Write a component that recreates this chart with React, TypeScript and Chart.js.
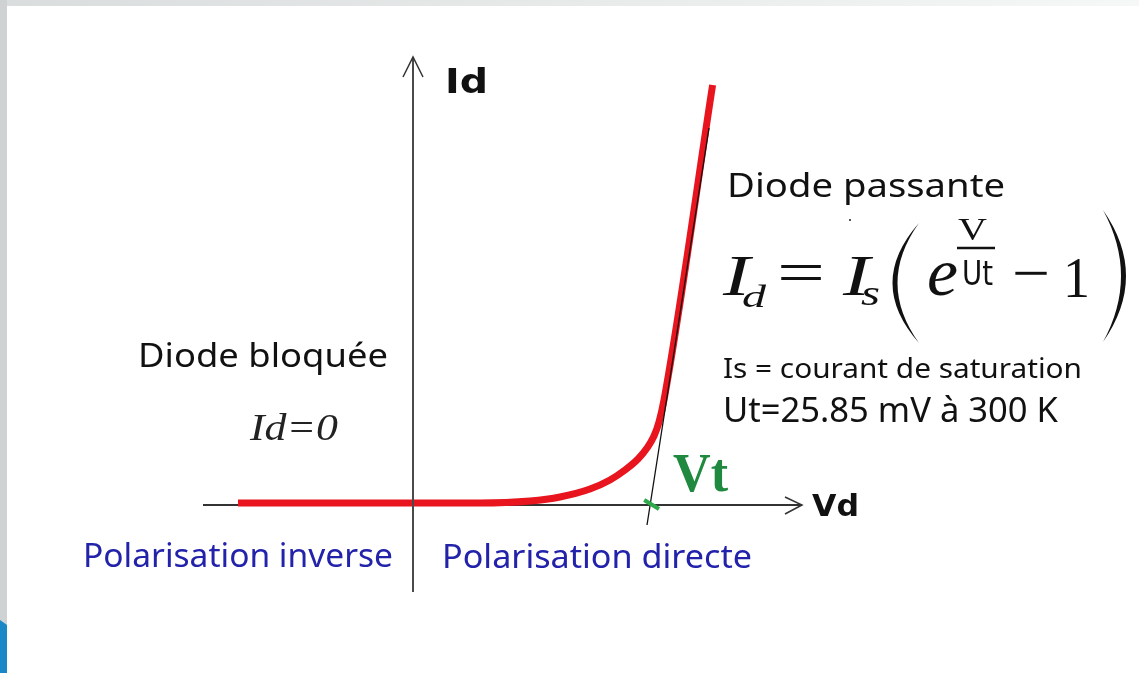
import React, { useEffect, useRef } from "react";
import { Chart, registerables } from "chart.js";

Chart.register(...registerables);

// Diode characteristic (Vd in volts, Id in mA)
const curveV = [-0.4375, 0.1675, 0.2925, 0.3675, 0.4425, 0.4925, 0.53, 0.5625, 0.585, 0.6025, 0.615, 0.6275, 0.749];
const curveI = [0.1, 0.1, 0.2, 0.4, 0.8, 1.25, 1.75, 2.3, 2.85, 3.45, 4.15, 5.25, 21];

// Tangent of the straight part (defines Vt)
const tangentV = [0.585, 0.74];
const tangentI = [-1.0, 18.85];

// Green tick marking Vt on the Vd axis
const markV = [0.578, 0.615];
const markI = [0.25, -0.2];

// Axis extents
const hAxisV = [-0.525, 0.9725];
const hAxisI = [0, 0];
const vAxisV = [0, 0];
const vAxisI = [-4.35, 22.4];

// Scale limits
const xLimits = [-1.0325, 1.815];
const yLimits = [-8.4, 25.25];

const toPts = (xs: number[], ys: number[]) => xs.map((x, i) => ({ x, y: ys[i] }));

function fitText(
  ctx: CanvasRenderingContext2D,
  text: string,
  left: number,
  baseline: number,
  width: number,
  font: string,
  color: string
) {
  ctx.save();
  ctx.font = font;
  ctx.fillStyle = color;
  ctx.textAlign = "left";
  ctx.textBaseline = "alphabetic";
  const w = ctx.measureText(text).width || 1;
  ctx.translate(left, baseline);
  ctx.scale(width / w, 1);
  ctx.fillText(text, 0, 0);
  ctx.restore();
}

const decorPlugin = {
  id: "decor",
  beforeDraw(chart: any) {
    const ctx: CanvasRenderingContext2D = chart.ctx;
    const W = chart.width;
    const H = chart.height;
    ctx.save();
    ctx.fillStyle = "#ffffff";
    ctx.fillRect(0, 0, W, H);
    const g = ctx.createLinearGradient(0, 0, W, 0);
    g.addColorStop(0, "#dadddd");
    g.addColorStop(1, "#f6f7f7");
    ctx.fillStyle = g;
    ctx.fillRect(0, 0, W, 6);
    ctx.fillStyle = "#cfd2d3";
    ctx.fillRect(0, 0, 7, H);
    ctx.fillStyle = "#1a88c6";
    ctx.beginPath();
    ctx.moveTo(0, 620);
    ctx.lineTo(7, 625);
    ctx.lineTo(7, H);
    ctx.lineTo(0, H);
    ctx.closePath();
    ctx.fill();
    ctx.restore();
  },
  afterDatasetsDraw(chart: any) {
    const ctx: CanvasRenderingContext2D = chart.ctx;
    const xs = chart.scales.x;
    const ys = chart.scales.y;
    ctx.save();
    ctx.lineWidth = 1.5;
    ctx.strokeStyle = "#333";
    // Vd arrow head
    const hx = xs.getPixelForValue(hAxisV[1]);
    const hy = ys.getPixelForValue(0);
    ctx.beginPath();
    ctx.moveTo(hx - 17, hy - 8);
    ctx.lineTo(hx, hy);
    ctx.lineTo(hx - 17, hy + 9);
    ctx.stroke();
    // Id arrow head
    const vx = xs.getPixelForValue(0);
    const vy = ys.getPixelForValue(vAxisI[1]);
    ctx.beginPath();
    ctx.moveTo(vx - 10, vy + 20);
    ctx.lineTo(vx, vy);
    ctx.lineTo(vx + 10, vy + 20);
    ctx.stroke();
    ctx.restore();

    // Axis names
    fitText(ctx, "Id", 445, 93, 43, "bold 34px 'DejaVu Sans'", "#111");
    fitText(ctx, "Vd", 812, 516, 47, "bold 31px 'DejaVu Sans'", "#111");
    fitText(ctx, "Vt", 673, 491, 55, "bold 54px 'Liberation Serif'", "#1f8a3f");

    // Region labels
    const hand = "'Noto Sans'";
    fitText(ctx, "Diode passante", 727, 197, 278, `33px ${hand}`, "#111");
    fitText(ctx, "Diode bloquée", 138, 367, 250, `33px ${hand}`, "#111");
    fitText(ctx, "Id=0", 250, 440, 88, "italic 38px 'Liberation Serif'", "#222");
    fitText(ctx, "Polarisation inverse", 83, 567, 310, `32px ${hand}`, "#2222aa");
    fitText(ctx, "Polarisation directe", 442, 568, 310, `32px ${hand}`, "#2222aa");
    fitText(ctx, "Is = courant de saturation", 723, 378, 359, `28px ${hand}`, "#111");
    fitText(ctx, "Ut=25.85 mV à 300 K", 723, 422, 335, `34px ${hand}`, "#111");

    // Formula Id = Is ( e^(V/Ut) - 1 )
    const serif = "'Liberation Serif'";
    fitText(ctx, "I", 723, 295, 27, `italic 57px ${serif}`, "#111");
    fitText(ctx, "d", 742, 307, 24, `italic 31px ${serif}`, "#111");
    fitText(ctx, "=", 777, 292, 48, `60px ${serif}`, "#111");
    fitText(ctx, "I", 843, 295, 27, `italic 57px ${serif}`, "#111");
    fitText(ctx, "s", 861, 305, 19, `italic 36px ${serif}`, "#111");
    fitText(ctx, "e", 927, 295, 31, `italic 68px ${serif}`, "#111");
    fitText(ctx, "V", 958, 240, 29, `32px ${serif}`, "#111");
    fitText(ctx, "Ut", 962, 285, 31, `34px 'DejaVu Sans'`, "#111");
    fitText(ctx, "−", 1012, 293, 38, `60px ${serif}`, "#111");
    fitText(ctx, "1", 1063, 297, 27, `58px ${serif}`, "#111");

    ctx.save();
    ctx.strokeStyle = "#111";
    ctx.lineWidth = 2.5;
    ctx.beginPath();
    ctx.moveTo(957, 248);
    ctx.lineTo(995, 248);
    ctx.stroke();
    ctx.fillStyle = "#111";
    // left parenthesis
    ctx.beginPath();
    ctx.moveTo(919, 223);
    ctx.quadraticCurveTo(866, 283, 919, 343);
    ctx.quadraticCurveTo(876, 283, 919, 223);
    ctx.fill();
    // right parenthesis
    ctx.beginPath();
    ctx.moveTo(1103, 210);
    ctx.quadraticCurveTo(1149, 276, 1103, 342);
    ctx.quadraticCurveTo(1139, 276, 1103, 210);
    ctx.fill();
    // small dot
    ctx.fillStyle = "#555";
    ctx.fillRect(849, 219, 2, 2);
    ctx.restore();
  },
};

export default function App() {
  const canvasRef = useRef<HTMLCanvasElement | null>(null);

  useEffect(() => {
    if (!canvasRef.current) return;
    const chart = new Chart(canvasRef.current, {
      type: "scatter",
      data: {
        datasets: [
          {
            label: "green mark",
            data: toPts(markV, markI),
            showLine: true,
            borderColor: "#2eaa4a",
            borderWidth: 4,
            pointRadius: 0,
            order: 1,
          },
          {
            label: "Id axis",
            data: toPts(vAxisV, vAxisI),
            showLine: true,
            borderColor: "#4a4a4a",
            borderWidth: 2,
            pointRadius: 0,
            order: 2,
          },
          {
            label: "tangent",
            data: toPts(tangentV, tangentI),
            showLine: true,
            borderColor: "#111",
            borderWidth: 1.3,
            pointRadius: 0,
            order: 3,
          },
          {
            label: "Id(Vd)",
            data: toPts(curveV, curveI),
            showLine: true,
            borderColor: "#e8141e",
            borderWidth: 7,
            pointRadius: 0,
            cubicInterpolationMode: "monotone",
            order: 4,
          },
          {
            label: "Vd axis",
            data: toPts(hAxisV, hAxisI),
            showLine: true,
            borderColor: "#333",
            borderWidth: 2,
            pointRadius: 0,
            order: 5,
          },
        ],
      },
      options: {
        animation: false,
        responsive: false,
        maintainAspectRatio: false,
        devicePixelRatio: 1,
        events: [],
        layout: { padding: 0, autoPadding: false },
        plugins: { legend: { display: false }, tooltip: { enabled: false } },
        scales: {
          x: { type: "linear", min: xLimits[0], max: xLimits[1], display: false },
          y: { type: "linear", min: yLimits[0], max: yLimits[1], display: false },
        },
      } as any,
      plugins: [decorPlugin],
    });
    return () => chart.destroy();
  }, []);

  return (
    <div style={{ position: "fixed", left: 0, top: 0, width: 1139, height: 673 }}>
      <canvas ref={canvasRef} width={1139} height={673} style={{ display: "block" }} />
    </div>
  );
}
